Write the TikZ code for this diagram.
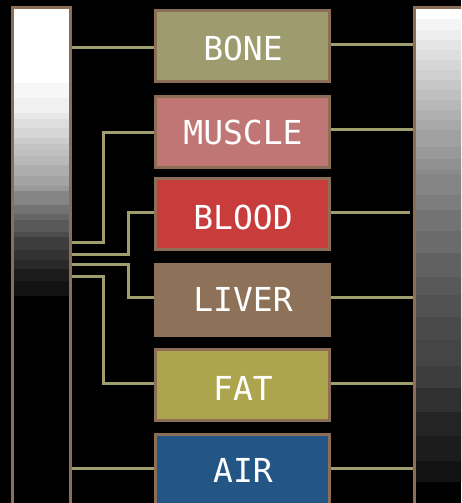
\documentclass[tikz,border=0pt]{standalone}
\usepackage{fontspec}
\newfontfamily\pixfont{DejaVu Sans Mono}
\definecolor{edge}{HTML}{8C6D55}
\definecolor{wire}{HTML}{A09E6F}
\definecolor{cbone}{HTML}{9E9C6E}
\definecolor{cmuscle}{HTML}{C07674}
\definecolor{cblood}{HTML}{C83C3C}
\definecolor{cliver}{HTML}{8D7159}
\definecolor{cfat}{HTML}{ACA54E}
\definecolor{cair}{HTML}{245685}
\tikzset{
  tissue/.style={draw=edge, line width=3pt, rectangle, minimum width=174pt, minimum height=71pt, inner sep=0pt},
  label text/.style={text=white, font=\pixfont\fontsize{33}{33}\selectfont, anchor=base, inner sep=0pt},
  bar/.style={draw=edge, line width=3pt, rectangle, inner sep=0pt},
  conn/.style={draw=wire, line width=3pt, line join=miter},
}
\begin{document}
\begin{tikzpicture}[x=1pt, y=-1pt]
\useasboundingbox (0,0) rectangle (461,503);
\begin{scope}
\clip (0,0) rectangle (461,503);
\fill[black] (0,0) rectangle (461,503);
% left bar gradient
\fill[white] (14,9) rectangle (69,83);
\foreach \a/\b/\g in {83/98/97,98/113/94,113/119/91,119/128/87,128/138/84,138/144/80,144/150/77,150/156/75,156/165/72,165/176/68,176/186/64,186/191/60,191/205/52,205/214/45,214/220/40,220/232/35,232/237/30,237/250/24,250/260/20,260/269/16,269/281/11,281/296/7}
  \fill[white!\g!black] (14,\a) rectangle (69,\b);
% right bar gradient
\fill[white] (416,9) rectangle (470,19);
\foreach \a/\b/\g in {19/30/96,30/40/93,40/50/90,50/60/87,60/70/84,70/80/81,80/90/78,90/100/75,100/110/72,110/120/69,120/130/66,130/147/63,147/159/60,159/170/57,170/174/54,174/195/52,195/210/49,210/231/45,231/253/42,253/277/38,277/295/35,295/317/32,317/340/29,340/366/27,366/388/24,388/412/19,412/436/14,436/461/11,461/482/7}
  \fill[white!\g!black] (416,\a) rectangle (470,\b);
% bars
\node[bar, minimum width=58pt, minimum height=532.5pt] (leftbar) at (41.5,273.75) {};
\node[bar, minimum width=60.5pt, minimum height=532.5pt] (rightbar) at (444.75,273.75) {};
% boxes
\node[tissue, fill=cbone] (bone) at (242.5,46) {};
\node[tissue, fill=cmuscle] (muscle) at (242.5,131.5) {};
\node[tissue, fill=cblood] (blood) at (242.5,213.5) {};
\node[tissue, fill=cliver, draw=cliver] (liver) at (242.5,299.5) {};
\node[tissue, fill=cfat] (fat) at (242.5,384.5) {};
\node[tissue, fill=cair] (air) at (242.5,469.5) {};
\node[label text] (tbone) at (243,61) {BONE};
\node[label text] (tmuscle) at (243,144) {MUSCLE};
\node[label text] (tblood) at (243,229) {BLOOD};
\node[label text] (tliver) at (243,311) {LIVER};
\node[label text] (tfat) at (243,400) {FAT};
\node[label text] (tair) at (243,482) {AIR};
% bend coordinates
\coordinate (m1) at (103.5,132.5); \coordinate (m2) at (103.5,242.5);
\coordinate (b1) at (128.5,212.5); \coordinate (b2) at (128.5,254.5);
\coordinate (l1) at (128.5,264.5); \coordinate (l2) at (128.5,297.5);
\coordinate (f1) at (103.5,276.5); \coordinate (f2) at (103.5,383.5);
\coordinate (bloodend) at (410,212.5);
% left connectors
\draw[conn] (leftbar.east |- 0,47.5) -- (bone.west |- 0,47.5);
\draw[conn] (muscle.west |- m1) -- (m1) -- (m2) -- (leftbar.east |- m2);
\draw[conn] (blood.west |- b1) -- (b1) -- (b2) -- (leftbar.east |- b2);
\draw[conn] (leftbar.east |- l1) -- (l1) -- (l2) -- (liver.west |- l2);
\draw[conn] (leftbar.east |- f1) -- (f1) -- (f2) -- (fat.west |- f2);
\draw[conn] (leftbar.east |- 0,468.5) -- (air.west |- 0,468.5);
% right connectors
\draw[conn] (bone.east |- 0,44.5) -- (rightbar.west |- 0,44.5);
\draw[conn] (muscle.east |- 0,129.5) -- (rightbar.west |- 0,129.5);
\draw[conn] (blood.east |- bloodend) -- (bloodend);
\draw[conn] (liver.east |- 0,297.5) -- (rightbar.west |- 0,297.5);
\draw[conn] (fat.east |- 0,383.5) -- (rightbar.west |- 0,383.5);
\draw[conn] (air.east |- 0,468.5) -- (rightbar.west |- 0,468.5);
\end{scope}
\end{tikzpicture}
\end{document}
